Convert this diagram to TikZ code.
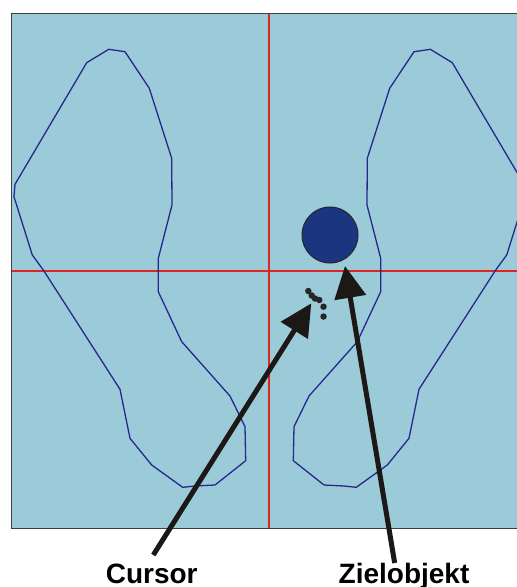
\documentclass[tikz,border=0pt]{standalone}
\usepackage{fontspec}
\setmainfont{Liberation Sans}
\usetikzlibrary{arrows.meta}
\definecolor{panelblue}{RGB}{155,203,216}
\definecolor{footblue}{RGB}{40,40,140}
\definecolor{crossred}{RGB}{225,35,35}
\definecolor{targetblue}{RGB}{27,53,128}
\definecolor{arrowblack}{RGB}{28,24,22}
\newcommand\footoutline{(108.7,49.3) -- (125,51.7) -- (149.3,88.3) -- (171.7,158.3) -- (172,205) -- (158.3,258.3) -- (158.3,291.7) -- (181.7,341.7) -- (230,396) -- (245,426.7) -- (245.7,460.7) -- (215,485) -- (195,486) -- (182.7,487.3) -- (151.7,465) -- (130,438.3) -- (120,389.3) -- (43.3,270) -- (32.3,255) -- (14,196.7) -- (15,184.3) -- (86.7,62.7) -- cycle}
\tikzset{
  foot/.style={draw=footblue, line width=1.3pt, line join=round},
  crossline/.style={draw=crossred, line width=1.6pt},
  pointer/.style={draw=arrowblack, line width=5pt, -{Triangle[length=32pt,width=31pt]}},
  label/.style={font=\bfseries\fontsize{28}{30}\selectfont, text=black, inner sep=0pt, anchor=base},
  dot/.style={circle, fill=black!85, inner sep=0pt, minimum size=6.5pt},
}
\begin{document}
\begin{tikzpicture}[x=1pt,y=-1pt]
\useasboundingbox (0,0) rectangle (517,587);
% panel
\fill[panelblue] (11,13) rectangle (517,528);
\begin{scope}
\clip (11,13) rectangle (517,528);
\draw[crossline] (269,13) -- (269,528);
\draw[crossline] (11,271) -- (517,271);
\draw[foot] \footoutline;
\begin{scope}[shift={(539,0)}, xscale=-1]
\draw[foot] \footoutline;
\end{scope}
\end{scope}
\draw[draw=black!75, line width=1pt] (518,13) -- (11,13) -- (11,528) -- (518,528);
% target
\node[circle, draw=black!85, fill=targetblue, line width=1pt, minimum size=56pt, inner sep=0pt] (target) at (330,235) {};
% cursor trail
\node[dot] (c1) at (308.3,291) {};
\node[dot] (c2) at (311.7,295.5) {};
\node[dot] (c3) at (315,298.5) {};
\node[dot] (c4) at (319.3,300) {};
\node[dot] (c5) at (323.5,306.7) {};
\node[dot] (c6) at (323.5,316.5) {};
% labels
\node[label] (cursorlabel) at (151.7,583) {Cursor};
\node[label] (ziellabel) at (404,583) {Zielobjekt};
% arrows
\coordinate (cursortail) at (153.3,555);
\coordinate (cursortip) at (311.3,303.3);
\coordinate (zieltail) at (394.7,563);
\coordinate (zieltip) at (345,266);
\draw[pointer] (cursortail) -- (cursortip);
\draw[pointer] (zieltail) -- (zieltip);
\end{tikzpicture}
\end{document}
